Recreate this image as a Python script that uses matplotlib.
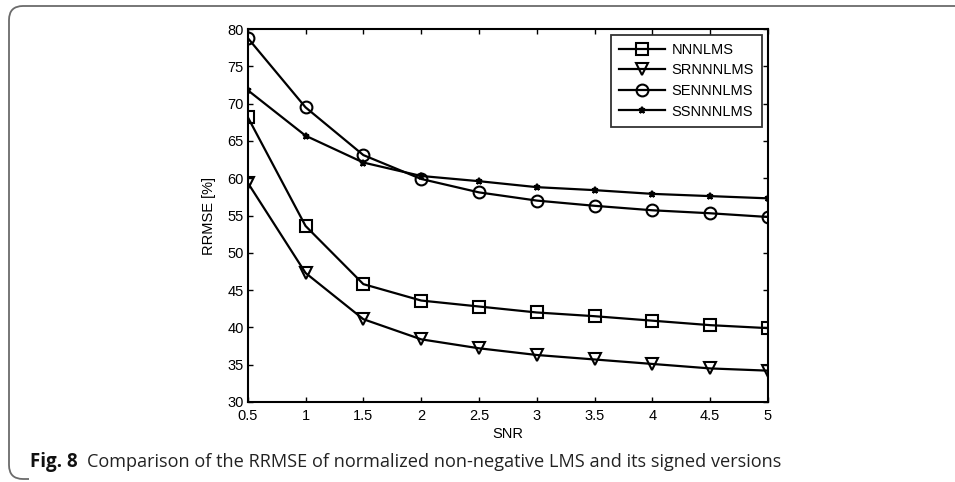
"""RRMSE against SNR for the normalised non-negative LMS family, MATLAB style."""

import matplotlib.pyplot as plt
from matplotlib.patches import PathPatch
from matplotlib.path import Path

plt.switch_backend("Agg")

snr = [0.5, 1, 1.5, 2, 2.5, 3, 3.5, 4, 4.5, 5]
nnnlms = [68.2, 53.6, 45.8, 43.6, 42.8, 42.0, 41.5, 40.9, 40.3, 39.9]
srnnnlms = [59.4, 47.3, 41.1, 38.4, 37.2, 36.3, 35.7, 35.1, 34.5, 34.2]
sennnlms = [78.8, 69.5, 63.1, 59.9, 58.1, 57.0, 56.3, 55.7, 55.3, 54.8]
ssnnnlms = [71.8, 65.7, 62.1, 60.3, 59.6, 58.8, 58.4, 57.9, 57.6, 57.3]
x_ticks = [0.5, 1, 1.5, 2, 2.5, 3, 3.5, 4, 4.5, 5]
y_ticks = [30, 35, 40, 45, 50, 55, 60, 65, 70, 75, 80]

INK = "black"
FRAME = "#6b6b6b"

plt.rcParams["font.family"] = ["Liberation Sans", "DejaVu Sans"]

fig = plt.figure(figsize=(9.55, 4.82), dpi=100)
ax = fig.add_axes([0.2594, 0.166, 0.5448, 0.7738])

common = dict(color=INK, linewidth=1.6, markerfacecolor="none", markeredgecolor=INK,
              markeredgewidth=1.5)
ax.plot(snr, nnnlms, marker="s", markersize=8, label="NNNLMS", **common)
ax.plot(snr, srnnnlms, marker="v", markersize=9, label="SRNNNLMS", **common)
ax.plot(snr, sennnlms, marker="o", markersize=8.5, label="SENNNLMS", **common)
ax.plot(snr, ssnnnlms, marker="*", markersize=5, label="SSNNNLMS", **common)

ax.set_xlim(0.5, 5)
ax.set_ylim(30, 80)
ax.set_xticks(x_ticks, [f"{v:g}" for v in x_ticks])
ax.set_yticks(y_ticks)
ax.tick_params(direction="in", top=True, right=True, length=3.5, width=1,
               labelsize=10.5)
ax.tick_params(axis="x", pad=5)
ax.tick_params(axis="y", pad=3)
for s in ax.spines.values():
    s.set_linewidth(1.5)
ax.set_xlabel("SNR", fontsize=10.5, labelpad=3)
ax.set_ylabel("RRMSE [%]", fontsize=10.5, labelpad=8)

leg = ax.legend(loc="upper right", bbox_to_anchor=(1.0, 1.0), fontsize=10.5,
                frameon=True, fancybox=False, edgecolor=INK, handlelength=3.2,
                handletextpad=0.45, borderaxespad=0.4, labelspacing=0.45,
                borderpad=0.55)
leg.get_frame().set_linewidth(1.3)

# rounded bracket frame around the figure
W, H = 955, 482
r = 14
x0, ytop, ybot = 9, H - 6, H - 479
verts = [(W, ytop), (x0 + r, ytop), (x0, ytop), (x0, ytop - r),
         (x0, ybot + r), (x0, ybot), (x0 + r, ybot), (x0 + r + 6, ybot)]
codes = [Path.MOVETO, Path.LINETO, Path.CURVE3, Path.CURVE3,
         Path.LINETO, Path.CURVE3, Path.CURVE3, Path.LINETO]
frame = PathPatch(Path([(vx / W, vy / H) for vx, vy in verts], codes),
                  transform=fig.transFigure, fill=False, edgecolor=FRAME,
                  linewidth=1.3)
fig.add_artist(frame)

fig.text(30 / W, 1 - 462 / H, "Fig. 8", fontsize=13.5, fontweight="bold",
         family=["Open Sans", "DejaVu Sans"], va="center", ha="left", color="#111111")
fig.text(87 / W, 1 - 462 / H,
         "Comparison of the RRMSE of normalized non-negative LMS and its signed versions",
         fontsize=13.1, family=["Open Sans", "DejaVu Sans"], va="center", ha="left",
         color="#222222")

fig.savefig("out.png", dpi=100)
plt.close(fig)
